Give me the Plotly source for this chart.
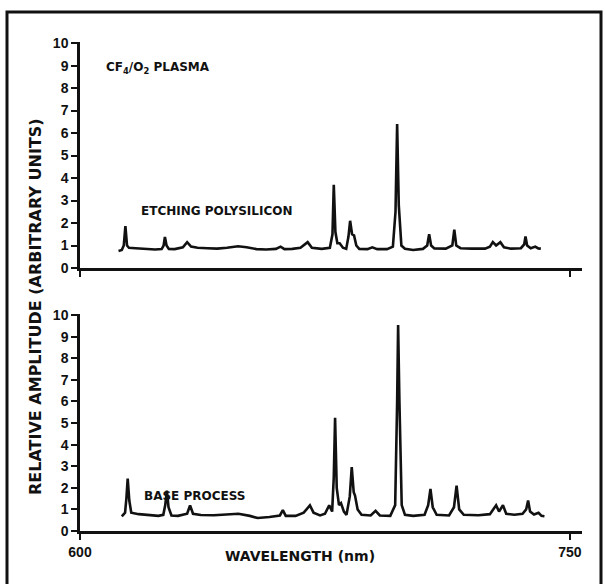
import plotly.graph_objects as go
from plotly.subplots import make_subplots

# ---- data (wavelength nm, relative amplitude) ----
etch_wl = [611.8, 612.8, 613.4, 613.9, 614.4, 615.0, 617, 620, 623, 625.0, 625.6, 626.0, 626.5, 627.2,
           629, 631.5, 632.8, 634.0, 636, 639, 642, 645, 648.4, 651, 654, 657, 660, 661.4, 662.6, 665,
           667.5, 669.7, 671, 674, 676.5, 677.3, 677.7, 678.2, 678.8, 679.5, 680.5, 681.5, 682.2, 682.7,
           683.3, 683.9, 684.6, 685.5, 688, 689.5, 691, 694, 695.8, 696.6, 697.1, 697.6, 698.4, 699.5,
           702, 705, 706.3, 706.9, 707.5, 708.5, 712, 714.0, 714.6, 715.2, 716.5, 720, 724, 725.5,
           726.4, 727.4, 728.7, 729.8, 732, 735, 736.0, 736.4, 736.9, 738, 739.4, 740.3, 741.1]
etch_amp = [0.76, 0.8, 1.0, 1.86, 1.0, 0.9, 0.88, 0.85, 0.82, 0.84, 1.0, 1.38, 1.0, 0.85,
            0.84, 0.92, 1.15, 0.95, 0.9, 0.88, 0.86, 0.9, 0.97, 0.92, 0.84, 0.82, 0.85, 0.95, 0.84, 0.85,
            0.9, 1.15, 0.9, 0.85, 0.9, 1.5, 3.7, 1.6, 1.1, 1.1, 0.9, 0.85, 1.4, 2.1,
            1.5, 1.45, 1.0, 0.85, 0.84, 0.92, 0.84, 0.84, 0.95, 2.5, 6.4, 2.8, 1.0, 0.86,
            0.8, 0.85, 1.0, 1.5, 1.0, 0.87, 0.86, 1.0, 1.7, 1.0, 0.88, 0.86, 0.86, 0.95,
            1.15, 1.0, 1.15, 0.92, 0.86, 0.88, 1.05, 1.4, 1.0, 0.88, 0.95, 0.87, 0.86]

base_wl = [612.8, 613.8, 614.2, 614.6, 615.1, 615.7, 618, 621, 624, 625.5, 626.1, 626.6, 627.1, 628,
           630, 632.8, 633.7, 634.6, 637, 641, 645, 648.5, 652, 654.4, 658, 661.2, 662.1, 663, 666,
           668.5, 670.4, 671.5, 673.5, 675, 676.3, 677.2, 677.7, 678.1, 678.6, 679.3, 679.9, 680.8,
           681.6, 682.6, 683.2, 683.8, 684.2, 685.0, 686.2, 689, 690.5, 691.8, 695, 696.5, 697.1,
           697.4, 697.8, 698.5, 699.5, 702, 705.5, 706.6, 707.3, 708.0, 709.2, 713, 714.5, 715.3,
           716.1, 717.5, 722, 725.5, 727.4, 728.3, 729.5, 730.5, 733, 735.5, 736.6, 737.2, 737.8,
           739, 740.4, 741.3, 742.2]
base_amp = [0.68, 0.85, 1.5, 2.43, 1.4, 0.85, 0.78, 0.74, 0.7, 0.75, 1.2, 1.87, 1.1, 0.72,
            0.7, 0.8, 1.19, 0.8, 0.74, 0.73, 0.76, 0.8, 0.7, 0.6, 0.65, 0.72, 0.97, 0.7, 0.7,
            0.85, 1.19, 0.85, 0.72, 0.8, 1.19, 0.9, 2.5, 5.24, 2.0, 1.2, 1.29, 0.9,
            0.75, 1.6, 2.96, 1.8, 1.64, 1.0, 0.75, 0.72, 0.93, 0.72, 0.7, 1.2, 6.0,
            9.54, 6.0, 1.2, 0.75, 0.7, 0.75, 1.2, 1.95, 1.1, 0.75, 0.72, 1.1, 2.1,
            1.0, 0.75, 0.73, 0.78, 1.19, 0.9, 1.19, 0.8, 0.75, 0.8, 1.0, 1.41, 0.9,
            0.76, 0.84, 0.7, 0.68]

y_ticks = list(range(0, 11))
x_ticks = [600, 750]
x_tick_labels = ["600", "750"]

FONT = "Liberation Sans"
TFONT = "DejaVu Sans"
BLACK = "#111111"

fig = make_subplots(rows=2, cols=1, shared_xaxes=False, vertical_spacing=0.05)

fig.add_trace(go.Scatter(x=etch_wl, y=etch_amp, mode="lines",
                         line=dict(color=BLACK, width=2.6), showlegend=False,
                         hoverinfo="skip"), row=1, col=1)
fig.add_trace(go.Scatter(x=base_wl, y=base_amp, mode="lines",
                         line=dict(color=BLACK, width=2.6), showlegend=False,
                         hoverinfo="skip"), row=2, col=1)

ML, MR, MT, MB = 80, 23, 42, 53
W, H = 605, 584
pw = W - ML - MR
ph = H - MT - MB

top_dom = [(531 - 268) / ph, 1.0]
bot_dom = [0.0, (531 - 314) / ph]

axis_common = dict(showgrid=False, zeroline=False, showline=True, linecolor=BLACK,
                   linewidth=2.5, ticks="outside", tickcolor=BLACK, tickwidth=2,
                   ticklen=6, tickfont=dict(family=FONT, size=14, color=BLACK, weight="bold"))

fig.update_layout(
    width=W, height=H,
    margin=dict(l=ML, r=MR, t=MT, b=MB),
    paper_bgcolor="white", plot_bgcolor="white",
    xaxis=dict(**axis_common, range=[600, 753.7], tickvals=x_ticks,
               showticklabels=False, domain=[0, 1], anchor="y"),
    yaxis=dict(**axis_common, range=[0, 10.05], tickvals=y_ticks, domain=top_dom,
               anchor="x"),
    xaxis2=dict(**axis_common, range=[600, 753.7], tickvals=x_ticks,
                ticktext=x_tick_labels, domain=[0, 1], anchor="y2"),
    yaxis2=dict(**axis_common, range=[0, 10.05], tickvals=y_ticks, domain=bot_dom,
                anchor="x2"),
)

def px_x(p):
    return (p - ML) / pw

def px_y(p):
    return (H - MB - p) / ph

txt_font = dict(family=TFONT, size=12, color=BLACK, weight="bold")
fig.add_annotation(x=px_x(104), y=px_y(68), xref="paper", yref="paper",
                   text="CF<sub>4</sub>/O<sub>2</sub> PLASMA", showarrow=False,
                   xanchor="left", yanchor="middle", font=txt_font)
fig.add_annotation(x=px_x(139), y=px_y(211), xref="paper", yref="paper",
                   text="ETCHING POLYSILICON", showarrow=False,
                   xanchor="left", yanchor="middle", font=txt_font)
fig.add_annotation(x=px_x(142), y=px_y(496), xref="paper", yref="paper",
                   text="BASE PROCESS", showarrow=False,
                   xanchor="left", yanchor="middle", font=txt_font)
fig.add_annotation(x=px_x(300), y=px_y(556), xref="paper", yref="paper",
                   text="WAVELENGTH (nm)", showarrow=False,
                   xanchor="center", yanchor="middle",
                   font=dict(family=TFONT, size=14, color=BLACK, weight="bold"))
fig.add_annotation(x=px_x(35), y=px_y(307), xref="paper", yref="paper",
                   text="RELATIVE AMPLITUDE (ARBITRARY UNITS)", showarrow=False,
                   textangle=-90, xanchor="center", yanchor="middle",
                   font=dict(family=TFONT, size=16, color=BLACK, weight="bold"))

# outer frame (three sides visible in the scan)
l, r, t, b = px_x(7), px_x(601), px_y(12), px_y(584)
fig.add_shape(type="path", xref="paper", yref="paper",
              path=f"M {l} {b} L {l} {t} L {r} {t} L {r} {b}",
              line=dict(color=BLACK, width=3))

fig.write_html("out.html", config={"displayModeBar": False},
               post_script="document.body.style.margin='0px';")
